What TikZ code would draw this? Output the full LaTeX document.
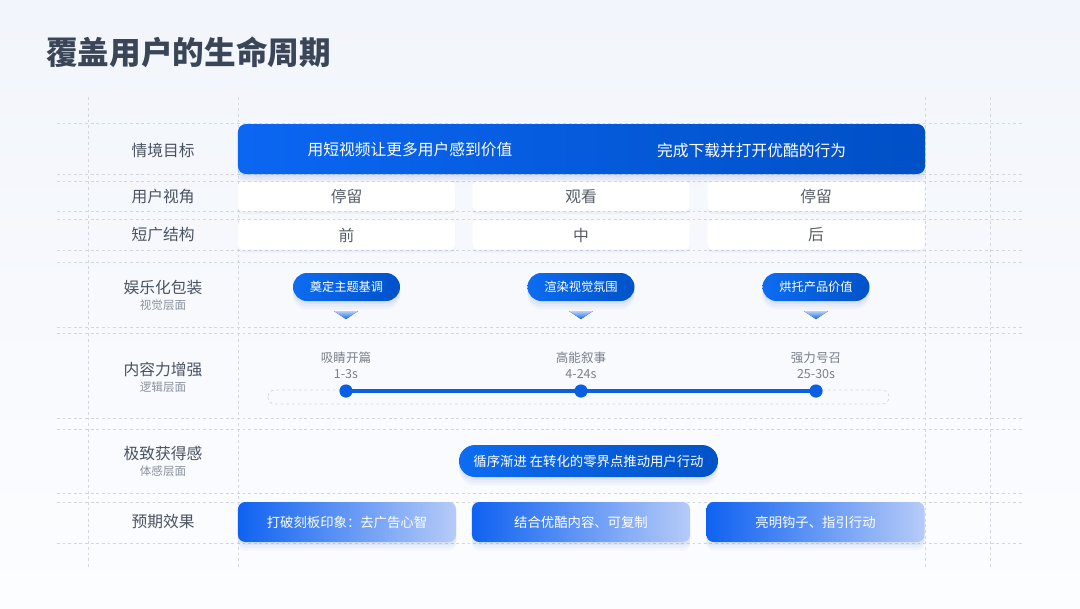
\documentclass[tikz,border=0pt]{standalone}
\usepackage{fontspec}
\setmainfont{Noto Sans CJK SC}
\usepackage{tikz}
\usetikzlibrary{positioning, backgrounds, shadows}
\usepackage{xcolor}

\definecolor{bgtop}{HTML}{F2F5FB}
\definecolor{bgbottom}{HTML}{FCFDFF}
\definecolor{gridgray}{HTML}{D2D7DF}
\definecolor{titlegray}{HTML}{3A4557}
\definecolor{labelgray}{HTML}{4A5362}
\definecolor{subgray}{HTML}{8A919B}
\definecolor{cellgray}{HTML}{575D67}
\definecolor{tickgray}{HTML}{7A808A}
\definecolor{goalA}{HTML}{0B66F2}
\definecolor{goalB}{HTML}{0050C6}
\definecolor{pillA}{HTML}{0D6CF1}
\definecolor{pillB}{HTML}{0052C8}
\definecolor{trilight}{HTML}{BCD0F3}
\definecolor{progress}{HTML}{0B5FE3}
\definecolor{effA}{HTML}{0F62F1}
\definecolor{effB}{HTML}{B6CBF8}
\definecolor{shadowblue}{HTML}{2A5BB8}

\tikzset{
  soft shadow/.style={
    drop shadow={shadow xshift=0pt, shadow yshift=-2pt, opacity=0.05, fill=shadowblue},
    drop shadow={shadow xshift=0pt, shadow yshift=-4pt, opacity=0.05, fill=shadowblue},
    drop shadow={shadow xshift=0pt, shadow yshift=-6pt, opacity=0.04, fill=shadowblue}},
  grid line/.style={draw=gridgray, line width=0.5pt, dash pattern=on 2pt off 2pt},
  rowlabel/.style={text=labelgray, font=\fontsize{11.2pt}{13pt}\selectfont, inner sep=0pt},
  sublabel/.style={text=subgray, font=\fontsize{8.2pt}{10pt}\selectfont, inner sep=0pt},
  goalbox/.style={rectangle, rounded corners=0.2cm, left color=goalA, right color=goalB,
    minimum width=17.175cm, minimum height=1.25cm, soft shadow},
  goaltext/.style={text=white, font=\fontsize{11.2pt}{13pt}\selectfont, inner sep=0pt},
  cellbox/.style={rectangle, rounded corners=0.1cm, fill=white, minimum width=5.43cm,
    minimum height=0.73cm, text=cellgray, font=\fontsize{11.2pt}{13pt}\selectfont,
    drop shadow={shadow xshift=0pt, shadow yshift=-2pt, opacity=0.05, fill=shadowblue}},
  pill/.style={rectangle, rounded corners=0.35cm, left color=pillA, right color=pillB,
    text=white, minimum width=2.675cm, minimum height=0.7cm, font=\fontsize{8.7pt}{10pt}\selectfont,
    soft shadow},
  ticklabel/.style={text=tickgray, font=\fontsize{8.9pt}{11.4pt}\selectfont, align=center, inner sep=0pt},
  dot/.style={circle, fill=progress, minimum size=0.33cm, inner sep=0pt},
  progress line/.style={draw=progress, line width=2.8pt},
  effectbox/.style={rectangle, rounded corners=0.18cm, left color=effA, right color=effB,
    minimum width=5.45cm, minimum height=1cm, text=white, font=\fontsize{9.5pt}{11pt}\selectfont,
    soft shadow},
}

\begin{document}
\begin{tikzpicture}[x=0.025cm, y=-0.025cm]
  \useasboundingbox (0,0) rectangle (1080,608);
  \shade[top color=bgtop, bottom color=bgbottom] (0,0) rectangle (1080,608);

  % Title
  \node[anchor=west, inner sep=0pt, text=titlegray, font=\fontsize{22.5pt}{26pt}\selectfont\bfseries] (title) at (46,52) {覆盖用户的生命周期};

  % Grid
  \foreach \y in {123,174,181,211,219,250,262,327,333,418,429,493,502,543}
    \draw[grid line] (57,\y) -- (1022,\y);
  \foreach \x in {88,238,925,990}
    \draw[grid line] (\x,97) -- (\x,568);

  % Row labels
  \node[rowlabel] (goal) at (163,150) {情境目标};
  \node[rowlabel] (view) at (163,197) {用户视角};
  \node[rowlabel] (structure) at (163,235) {短广结构};
  \node[rowlabel] (fun) at (163,288) {娱乐化包装};
  \node[sublabel] (funsub) at (163,305) {视觉层面};
  \node[rowlabel] (content) at (163,370) {内容力增强};
  \node[sublabel] (contentsub) at (163,387) {逻辑层面};
  \node[rowlabel] (gain) at (163,454) {极致获得感};
  \node[sublabel] (gainsub) at (163,471) {体感层面};
  \node[rowlabel] (effect) at (163,522) {预期效果};

  % Goal
  \node[goalbox] (goalbar) at (581.5,149) {};
  \node[goaltext] (goalleft) at (410,150) {用短视频让更多用户感到价值};
  \node[goaltext] (goalright) at (751.5,150) {完成下载并打开优酷的行为};

  % User view / structure
  \node[cellbox] (view1) at (346.5,196.5) {停留};
  \node[cellbox] (view2) at (581,196.5) {观看};
  \node[cellbox] (view3) at (816,196.5) {停留};
  \node[cellbox] (part1) at (346.5,235) {前};
  \node[cellbox] (part2) at (581,235) {中};
  \node[cellbox] (part3) at (816,235) {后};

  % Entertainment pills
  \fill[top color=trilight, bottom color=pillA] (334,311) -- (358,311) -- (346,319) -- cycle;
  \fill[top color=trilight, bottom color=pillA] (569,311) -- (593,311) -- (581,319) -- cycle;
  \fill[top color=trilight, bottom color=pillA] (804,311) -- (828,311) -- (816,319) -- cycle;
  \node[pill] (tone) at (346.5,287) {奠定主题基调};
  \node[pill] (mood) at (581,287) {渲染视觉氛围};
  \node[pill] (value) at (816,287) {烘托产品价值};

  % Timeline
  \draw[grid line, rounded corners=0.17cm] (268,390) rectangle (889,404);
  \coordinate (t1) at (346,391);
  \coordinate (t2) at (581,391);
  \coordinate (t3) at (816,391);
  \draw[progress line] (t1) -- (t2) -- (t3);
  \node[dot] (dot1) at (t1) {};
  \node[dot] (dot2) at (t2) {};
  \node[dot] (dot3) at (t3) {};
  \node[ticklabel] (tick1) at (346,365) {吸睛开篇\\1-3s};
  \node[ticklabel] (tick2) at (581,365) {高能叙事\\4-24s};
  \node[ticklabel] (tick3) at (816,365) {强力号召\\25-30s};

  % Gain
  \node[pill, minimum width=6.475cm, minimum height=0.8cm, rounded corners=0.4cm,
    font=\fontsize{9.5pt}{11pt}\selectfont] (push) at (588.5,461) {循序渐进 在转化的零界点推动用户行动};

  % Expected effect
  \node[effectbox] (effect1) at (347,522) {打破刻板印象：去广告心智};
  \node[effectbox] (effect2) at (581,522) {结合优酷内容、可复制};
  \node[effectbox] (effect3) at (815.5,522) {亮明钩子、指引行动};
\end{tikzpicture}
\end{document}
